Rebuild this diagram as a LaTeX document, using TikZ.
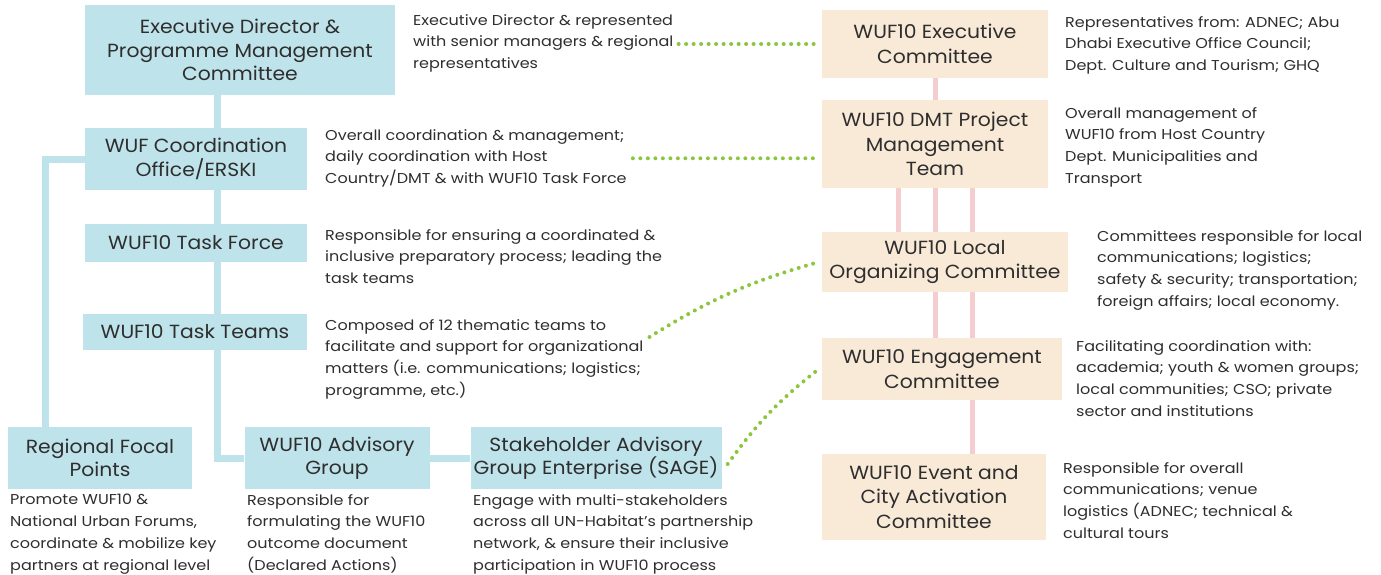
\documentclass[tikz,border=0pt]{standalone}
\usepackage{fontspec}
\setmainfont{Poppins}[FakeStretch=1.12]
\newfontfamily\titlefont{Poppins}[FakeStretch=1.07]
\usetikzlibrary{backgrounds}
\definecolor{boxblue}{HTML}{BFE3EA}
\definecolor{boxpeach}{HTML}{F9EAD8}
\definecolor{pinkline}{HTML}{F5CDD0}
\definecolor{dotgreen}{HTML}{8CC63F}
\definecolor{txt}{HTML}{2E2E2E}
\tikzset{
  bluebox/.style={fill=boxblue, draw=none, inner sep=2pt, align=center, text=txt, font=\titlefont\fontsize{19}{23.5}\selectfont},
  peachbox/.style={fill=boxpeach, draw=none, inner sep=2pt, align=center, text=txt, font=\titlefont\fontsize{19}{24.5}\selectfont},
  desc/.style={anchor=north west, inner sep=0pt, align=left, text=txt, font=\fontsize{14.3}{21.8}\selectfont},
  blueline/.style={draw=boxblue, line width=7pt},
  pinkconn/.style={draw=pinkline, line width=5pt},
  greendots/.style={draw=dotgreen, line width=4pt, line cap=round, dash pattern=on 0pt off 7.5pt},
}
\begin{document}
\begin{tikzpicture}[x=1pt,y=-1pt]
\useasboundingbox (0,0) rectangle (1381,574);
% left blue boxes
\node[bluebox, minimum width=310, minimum height=90] (ed) at (240,50) {Executive Director \&\\Programme Management\\Committee};
\node[bluebox, minimum width=222, minimum height=62] (coord) at (196,159) {WUF Coordination\\Office/ERSKI};
\node[bluebox, minimum width=222, minimum height=38] (tf) at (196,243) {WUF10 Task Force};
\node[bluebox, minimum width=224, minimum height=36] (tt) at (195,332) {WUF10 Task Teams};
\node[bluebox, minimum width=184, minimum height=62] (reg) at (100,458) {Regional Focal\\Points};
\node[bluebox, minimum width=185, minimum height=62] (adv) at (337,458) {WUF10 Advisory\\Group};
\node[bluebox, minimum width=251, minimum height=62] (sage) at (596,458) {Stakeholder Advisory\\Group Enterprise (SAGE)};
% right peach boxes
\node[peachbox, minimum width=226, minimum height=68] (exc) at (935,44) {WUF10 Executive\\Committee};
\node[peachbox, minimum width=226, minimum height=88] (dmt) at (935,144) {WUF10 DMT Project\\Management\\Team};
\node[peachbox, minimum width=246, minimum height=60] (loc) at (945,262) {WUF10 Local\\Organizing Committee};
\node[peachbox, minimum width=240, minimum height=62] (eng) at (942,369) {WUF10 Engagement\\Committee};
\node[peachbox, minimum width=224, minimum height=86] (evt) at (934,497) {WUF10 Event and\\City Activation\\Committee};
% descriptions
\node[desc] (eddesc) at (413,14) {Executive Director \& represented\\with senior managers \& regional\\representatives};
\node[desc] (coorddesc) at (325,129) {Overall coordination \& management;\\daily coordination with Host\\Country/DMT \& with WUF10 Task Force};
\node[desc] (tfdesc) at (325,229) {Responsible for ensuring a coordinated \&\\inclusive preparatory process; leading the\\task teams};
\node[desc] (ttdesc) at (325,319) {Composed of 12 thematic teams to\\facilitate and support for organizational\\matters (i.e. communications; logistics;\\programme, etc.)};
\node[desc] (regdesc) at (10,494) {Promote WUF10 \&\\National Urban Forums,\\coordinate \& mobilize key\\partners at regional level};
\node[desc] (advdesc) at (247,494) {Responsible for\\formulating the WUF10\\outcome document\\(Declared Actions)};
\node[desc] (sagedesc) at (473,494) {Engage with multi-stakeholders\\across all UN-Habitat's partnership\\network, \& ensure their inclusive\\participation in WUF10 process};
\node[desc] (excdesc) at (1065,16) {Representatives from: ADNEC; Abu\\Dhabi Executive Office Council;\\Dept. Culture and Tourism; GHQ};
\node[desc] (dmtdesc) at (1065,107) {Overall management of\\WUF10 from Host Country\\Dept. Municipalities and\\Transport};
\node[desc] (locdesc) at (1097,230) {Committees responsible for local\\communications; logistics;\\safety \& security; transportation;\\foreign affairs; local economy.};
\node[desc] (engdesc) at (1076,340) {Facilitating coordination with:\\academia; youth \& women groups;\\local communities; CSO; private\\sector and institutions};
\node[desc] (evtdesc) at (1063,462) {Responsible for overall\\communications; venue\\logistics (ADNEC; technical \&\\cultural tours};
% helper coordinates
\coordinate (spine) at (217,0);
\coordinate (leftline) at (45,0);
\coordinate (pa) at (898,0);
\coordinate (pb) at (935,0);
\coordinate (pc) at (972,0);
\begin{scope}[on background layer]
\draw[blueline] (spine |- ed.south) -- (spine |- adv.west) -- (adv.west);
\draw[blueline] (coord.west) -- (leftline |- coord.west) -- (leftline |- reg.north);
\draw[blueline] (adv.east) -- (sage.west);
\draw[pinkconn] (pb |- exc.south) -- (pb |- eng.north);
\draw[pinkconn] (pa |- dmt.south) -- (pa |- loc.north);
\draw[pinkconn] (pc |- dmt.south) -- (pc |- evt.north);
\end{scope}
% green dotted
\draw[greendots] ([xshift=5pt]eddesc.east |- exc.west) -- ([xshift=-3pt]exc.west);
\draw[greendots] ([xshift=6pt]coorddesc.east) -- ([xshift=-3pt]coorddesc.east -| dmt.west);
\draw[greendots] ([xshift=6pt,yshift=-18pt]ttdesc.north east) to[bend left=8] ([xshift=-3pt]loc.west);
\draw[greendots] ([xshift=6pt,yshift=-6pt]sage.east) to[bend left=8] ([xshift=-3pt]eng.west);
\end{tikzpicture}
\end{document}
